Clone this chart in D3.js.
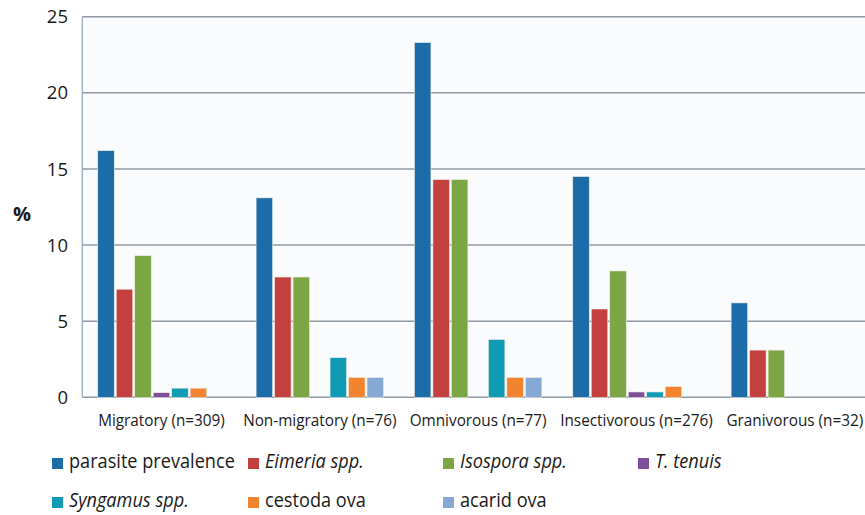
<!DOCTYPE html>
<html><head><meta charset="utf-8">
<script src="https://cdn.jsdelivr.net/npm/d3@7"></script>
<style>body{margin:0;background:#fff}svg{display:block}text{font-family:"Open Sans",sans-serif;fill:#1a1a1a}</style>
</head><body><svg id="c" width="865" height="515"></svg>
<script>
const categories = ["Migratory (n=309)","Non-migratory (n=76)","Omnivorous (n=77)","Insectivorous (n=276)","Granivorous (n=32)"];
const seriesNames = ["parasite prevalence","Eimeria spp.","Isospora spp.","T. tenuis","Syngamus spp.","cestoda ova","acarid ova"];
const seriesItalic = [false,true,true,true,true,false,false];
const seriesColors = ["#1b6ca8","#c4403e","#7ba643","#7d4e9c","#0e9bb3","#f28430","#86a8d4"];
const parasitePrevalence = [16.2,13.1,23.3,14.5,6.2];
const eimeria = [7.1,7.9,14.3,5.8,3.1];
const isospora = [9.3,7.9,14.3,8.3,3.1];
const tTenuis = [0.3,0,0,0.35,0];
const syngamus = [0.6,2.6,3.8,0.35,0];
const cestoda = [0.6,1.3,1.3,0.7,0];
const acarid = [0,1.3,1.3,0,0];
const yTicks = [0,5,10,15,20,25];

const values = [parasitePrevalence,eimeria,isospora,tTenuis,syngamus,cestoda,acarid];
const svg = d3.select("#c");
const L=82.3, R=874, T=16.7, B=397.3;

svg.append("rect").attr("x",L).attr("y",T).attr("width",R-L).attr("height",B-T).attr("fill","#fafbfc");

const y = d3.scaleLinear().domain([0,25]).range([B,T]);
const x0 = d3.scaleBand().domain(categories).range([L,R]).paddingInner(0.1826).paddingOuter(0.0913);
const x1 = d3.scaleBand().domain(seriesNames).range([0,x0.bandwidth()]);

// gridlines
svg.append("g").selectAll("line").data(yTicks).join("line")
  .attr("x1",L).attr("x2",R).attr("y1",d=>y(d)).attr("y2",d=>y(d))
  .attr("stroke","#8f9aa4").attr("stroke-width",1.4);
svg.append("line").attr("x1",L).attr("x2",L).attr("y1",T).attr("y2",B).attr("stroke","#9fb2c2").attr("stroke-width",1.4);

// bars
const g = svg.append("g");
categories.forEach((c,ci)=>{
  seriesNames.forEach((s,si)=>{
    const v = values[si][ci];
    if(!v) return;
    g.append("rect")
      .attr("x",x0(c)+x1(s)+1).attr("width",x1.bandwidth()-2)
      .attr("y",y(v)).attr("height",y(0)-y(v))
      .attr("fill",seriesColors[si]).attr("stroke","#efeae0").attr("stroke-width",0.6);
  });
});

// y tick labels
svg.append("g").selectAll("text").data(yTicks).join("text")
  .attr("x",68).attr("y",d=>y(d)).attr("dy","0.36em").attr("text-anchor","end")
  .attr("font-size",18.5).text(d=>d);
svg.append("text").attr("x",13).attr("y",221).attr("font-size",20).attr("font-weight","bold").text("%");

function condense(sel,k){sel.each(function(){const w=this.getComputedTextLength();d3.select(this).attr("textLength",w*k).attr("lengthAdjust","spacingAndGlyphs");});}

// x labels
const xl = svg.append("g").selectAll("text").data(categories).join("text")
  .attr("x",d=>x0(d)+x0.bandwidth()/2).attr("y",426).attr("text-anchor","middle")
  .attr("font-size",17).text(d=>d);
condense(xl,0.9);

// legend
const cols=[52,248,443,638], rows=[458,497];
const lg = svg.append("g");
seriesNames.forEach((s,i)=>{
  const cx = cols[i%4], ry = rows[Math.floor(i/4)];
  lg.append("rect").attr("x",cx).attr("y",ry).attr("width",11).attr("height",11).attr("fill",seriesColors[i]);
  const t = lg.append("text").attr("x",cx+17).attr("y",ry+10).attr("font-size",19.5)
    .attr("font-style",seriesItalic[i]?"italic":"normal").text(s);
  condense(t,0.93);
});
</script></body></html>
